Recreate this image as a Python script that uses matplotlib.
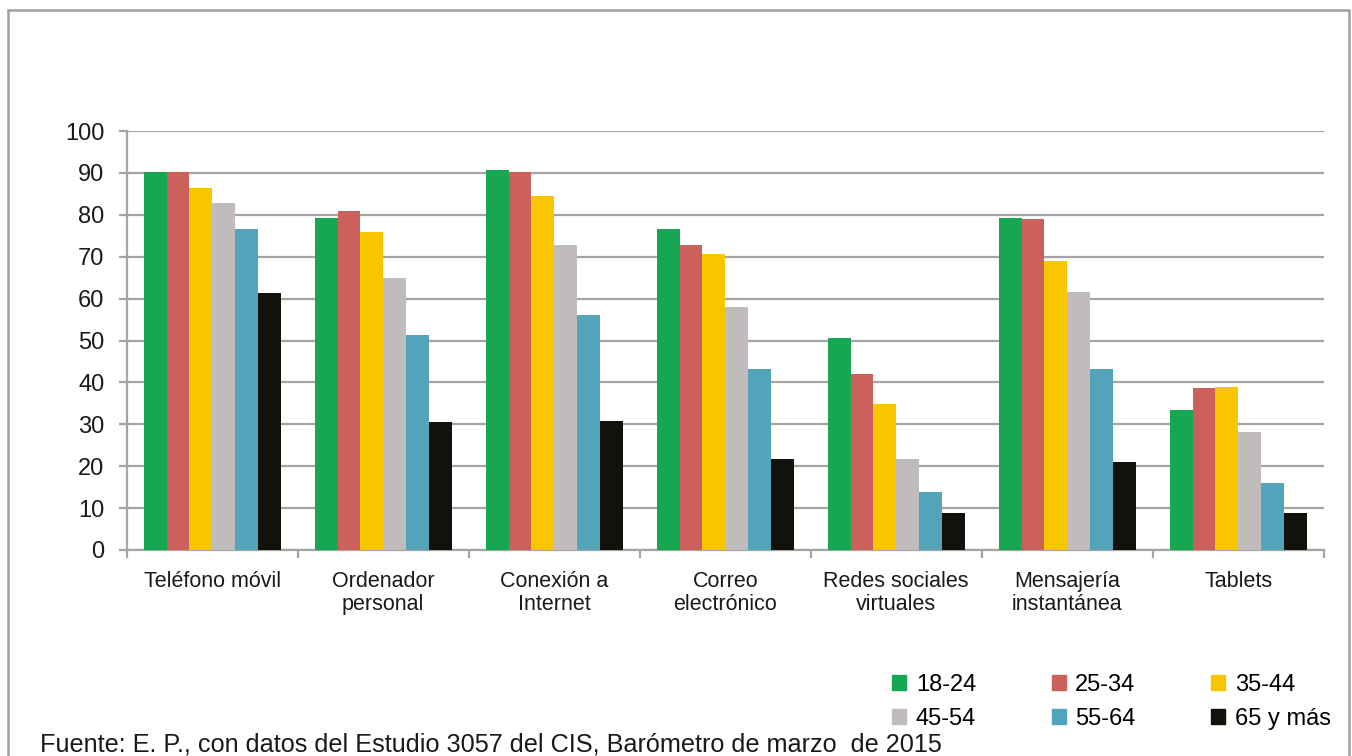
import matplotlib.pyplot as plt
from matplotlib.patches import Rectangle, Patch
import numpy as np

plt.rcParams['font.family'] = ['Liberation Sans', 'DejaVu Sans']

# categories and age groups
categories = ['Teléfono móvil', 'Ordenador\npersonal', 'Conexión a\nInternet', 'Correo\nelectrónico',
              'Redes sociales\nvirtuales', 'Mensajería\ninstantánea', 'Tablets']
ages = ['18-24', '25-34', '35-44', '45-54', '55-64', '65 y más']
colors = ['#17a652', '#cc605a', '#f8c600', '#c0bcbb', '#53a3ba', '#12110c']

# percentages
v_18_24 = [90.1, 79.3, 90.7, 76.6, 50.5, 79.3, 33.5]
v_25_34 = [90.2, 80.9, 90.2, 72.7, 42.1, 79.0, 38.6]
v_35_44 = [86.5, 76.0, 84.4, 70.7, 34.9, 68.9, 38.8]
v_45_54 = [82.9, 64.8, 72.7, 58.1, 21.7, 61.5, 28.2]
v_55_64 = [76.7, 51.4, 56.0, 43.1, 13.9, 43.1, 16.0]
v_65 = [61.4, 30.6, 30.9, 21.8, 8.8, 21.1, 8.9]
series = [v_18_24, v_25_34, v_35_44, v_45_54, v_55_64, v_65]

fig = plt.figure(figsize=(13.52, 7.56), dpi=100)
ax = fig.add_axes([0.0937, 0.2725, 0.8854, 0.5542])

x = np.arange(len(categories))
w = 0.1335
for i, vals in enumerate(series):
    ax.bar(x + (i - 2.5) * w, vals, width=w, color=colors[i], zorder=3, label=ages[i])

ax.set_xlim(-0.5, len(categories) - 0.5)
ax.set_ylim(0, 100)
ax.set_yticks(range(0, 101, 10))
ax.yaxis.grid(True, color='#a6a3a3', linewidth=1.6, zorder=0)
ax.set_axisbelow(True)

for s in ['top', 'right']:
    ax.spines[s].set_visible(False)
for s in ['left', 'bottom']:
    ax.spines[s].set_color('#a6a3a3')
    ax.spines[s].set_linewidth(1.6)

ax.set_xticks(x)
ax.set_xticklabels(categories, fontsize=15.5, color='#1a1a1a', linespacing=1.15)
ax.set_xticks(np.arange(-0.5, len(categories), 1), minor=True)
ax.tick_params(axis='x', which='major', length=0, pad=15)
ax.tick_params(axis='x', which='minor', length=6, width=1.6, color='#a6a3a3')
ax.tick_params(axis='y', length=6, width=1.6, color='#a6a3a3', labelsize=17, labelcolor='#1a1a1a', pad=10)

# legend filled row-wise in 3 columns
handles = [Patch(color=c) for c in colors]
order = [0, 3, 1, 4, 2, 5]
fig.legend([handles[k] for k in order], [ages[k] for k in order], ncol=3,
           loc='upper left', bbox_to_anchor=(0.653, 0.1207), frameon=False,
           fontsize=17, handlelength=0.6, handleheight=0.6, handletextpad=0.4,
           columnspacing=3.2, labelspacing=0.48, borderaxespad=0)

fig.text(0.0296, 0.0146, 'Fuente: E. P., con datos del Estudio 3057 del CIS, Barómetro de marzo  de 2015',
         fontsize=18.2, color='#1a1a1a', va='center', ha='left')

# outer frame
fig.patches.append(Rectangle((0.0059, -0.1), 0.9919, 1.0868, transform=fig.transFigure,
                             fill=False, edgecolor='#a0a0a0', linewidth=1.8))

fig.savefig('out.png', dpi=100)
